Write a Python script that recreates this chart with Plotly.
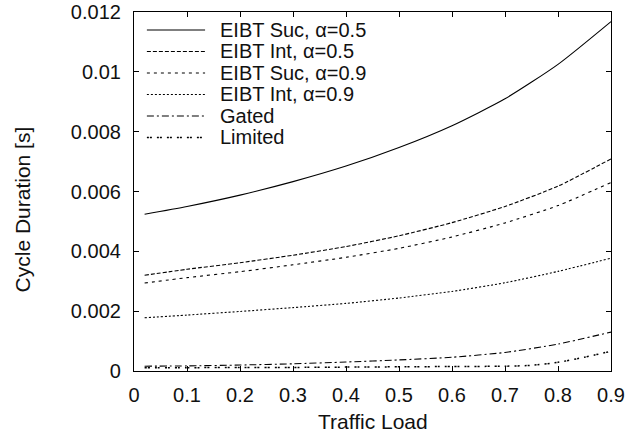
import plotly.graph_objects as go

# ---- data ----
load = [0.02, 0.1, 0.2, 0.3, 0.4, 0.5, 0.6, 0.7, 0.8, 0.9]
eibt_suc_05 = [0.00524, 0.00550, 0.00588, 0.00633, 0.00685, 0.00747, 0.00820, 0.00910, 0.01025, 0.01168]
eibt_int_05 = [0.00320, 0.00340, 0.00362, 0.00387, 0.00416, 0.00452, 0.00496, 0.00550, 0.00618, 0.00709]
eibt_suc_09 = [0.00294, 0.00312, 0.00332, 0.00355, 0.00380, 0.00410, 0.00448, 0.00495, 0.00553, 0.00630]
eibt_int_09 = [0.00178, 0.00187, 0.00199, 0.00212, 0.00226, 0.00244, 0.00266, 0.00295, 0.00333, 0.00377]
gated = [0.00016, 0.00017, 0.00020, 0.00024, 0.00030, 0.00037, 0.00046, 0.00062, 0.00090, 0.00130]
load_limited = [0.02, 0.1, 0.2, 0.3, 0.4, 0.5, 0.6, 0.7, 0.75, 0.8, 0.85, 0.9]
limited = [0.00011, 0.00011, 0.00012, 0.00012, 0.00013, 0.00014, 0.00015, 0.00016, 0.00019, 0.00029, 0.00046, 0.00066]

series_names = ["EIBT Suc, α=0.5", "EIBT Int, α=0.5", "EIBT Suc, α=0.9",
                "EIBT Int, α=0.9", "Gated", "Limited"]
x_ticks = [0, 0.1, 0.2, 0.3, 0.4, 0.5, 0.6, 0.7, 0.8, 0.9]
x_tick_text = ["0", "0.1", "0.2", "0.3", "0.4", "0.5", "0.6", "0.7", "0.8", "0.9"]
y_ticks = [0, 0.002, 0.004, 0.006, 0.008, 0.010, 0.012]
y_tick_text = ["0", "0.002", "0.004", "0.006", "0.008", "0.01", "0.012"]

styles = [
    dict(dash="solid", width=1.1),
    dict(dash="4px,2px", width=1.1),
    dict(dash="3px,4px", width=1.1),
    dict(dash="2px,2px", width=1.1),
    dict(dash="7px,3px,2px,3px", width=1.1),
    dict(dash="2px,1px,2px,5px", width=1.5),
]
xs = [load, load, load, load, load, load_limited]
ys = [eibt_suc_05, eibt_int_05, eibt_suc_09, eibt_int_09, gated, limited]

FONT = "Liberation Sans, Arial, Helvetica, sans-serif"

fig = go.Figure()
for name, x, y, st in zip(series_names, xs, ys, styles):
    fig.add_trace(go.Scatter(
        x=x, y=y, name=name, mode="lines", showlegend=False,
        line=dict(color="black", width=st["width"], dash=st["dash"], shape="spline", smoothing=0.6),
    ))

# key drawn inside the top-left corner (gnuplot style)
shapes = []
annotations = []
row_top = 0.950
row_step = 0.0599
for i, (name, st) in enumerate(zip(series_names, styles)):
    ry = row_top - i * row_step
    shapes.append(dict(type="line", xref="paper", yref="paper",
                       x0=0.027, x1=0.149, y0=ry, y1=ry,
                       line=dict(color="black", width=st["width"], dash=st["dash"])))
    annotations.append(dict(text=name, xref="paper", yref="paper", x=0.176, y=ry,
                            xanchor="left", yanchor="middle", showarrow=False,
                            font=dict(size=20)))

annotations += [
    dict(text="Traffic Load", xref="paper", yref="paper", x=0.5, y=0,
         xanchor="center", yanchor="middle", yshift=-50, showarrow=False,
         font=dict(size=21)),
    dict(text="Cycle Duration [s]", xref="paper", yref="paper", x=0, y=0.45,
         xanchor="center", yanchor="middle", xshift=-112, textangle=-90,
         showarrow=False, font=dict(size=21)),
]

fig.update_layout(
    width=632, height=440,
    margin=dict(l=134, r=21, t=12, b=69, autoexpand=False),
    paper_bgcolor="white", plot_bgcolor="white",
    font=dict(family=FONT, size=20, color="#111111"),
    showlegend=False,
    xaxis=dict(
        range=[0, 0.9], tickvals=x_ticks, ticktext=x_tick_text,
        ticks="inside", ticklen=5, tickcolor="black", tickwidth=1,
        showline=True, linecolor="black", linewidth=1.2, mirror="allticks",
        showgrid=False, zeroline=False, ticklabelstandoff=6, automargin=False,
        tickfont=dict(size=20),
    ),
    yaxis=dict(
        range=[0, 0.012], tickvals=y_ticks, ticktext=y_tick_text,
        ticks="inside", ticklen=5, tickcolor="black", tickwidth=1,
        showline=True, linecolor="black", linewidth=1.2, mirror="allticks",
        showgrid=False, zeroline=False, ticklabelstandoff=8, automargin=False,
        tickfont=dict(size=20),
    ),
    shapes=shapes,
    annotations=annotations,
)

fig.write_html("out.html")
